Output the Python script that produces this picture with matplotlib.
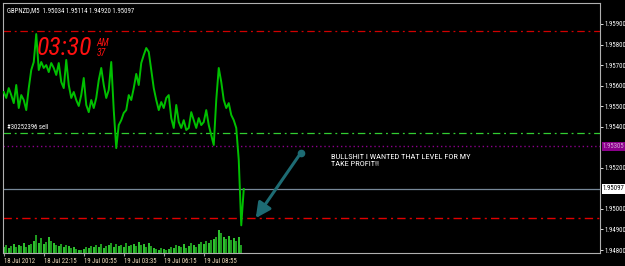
import numpy as np
import matplotlib
matplotlib.use("Agg")
import matplotlib.pyplot as plt
import matplotlib.transforms as mtransforms

# GBPNZD M5 - sequencia de fechamentos (um ponto a cada 10 min)
fechamentos = [
    1.95569, 1.95540, 1.95588, 1.95554, 1.95515, 1.95603, 1.95491, 1.95554, 1.95530, 1.95481,
    1.95588, 1.95676, 1.95715, 1.95851, 1.95676, 1.95715, 1.95686, 1.95700, 1.95666, 1.95710,
    1.95686, 1.95652, 1.95710, 1.95618, 1.95588, 1.95725, 1.95603, 1.95540, 1.95569, 1.95530,
    1.95501, 1.95554, 1.95637, 1.95506, 1.95471, 1.95530, 1.95491, 1.95540, 1.95627, 1.95686,
    1.95603, 1.95540, 1.95579, 1.95715, 1.95481, 1.95296, 1.95408, 1.95432, 1.95467, 1.95481,
    1.95554, 1.95530, 1.95588, 1.95657, 1.95603, 1.95710, 1.95749, 1.95783, 1.95764, 1.95676,
    1.95588, 1.95530, 1.95481, 1.95520, 1.95491, 1.95540, 1.95554, 1.95442, 1.95394, 1.95506,
    1.95423, 1.95394, 1.95432, 1.95384, 1.95394, 1.95471, 1.95432, 1.95394, 1.95442, 1.95408,
    1.95423, 1.95481, 1.95408, 1.95359, 1.95311, 1.95530, 1.95686, 1.95618, 1.95530, 1.95491,
    1.95515, 1.95457, 1.95432, 1.95394, 1.95238, 1.94920, 1.95097,
]

# volume (ticks) por ponto
volumes = [
    60, 80, 50, 70, 90, 60, 80, 70, 100, 60, 80, 90, 120,
    180,
    100, 150, 90, 110, 160, 120, 100, 80,
    70, 90, 60, 80, 70, 50, 60, 40, 30,
    30, 40, 60, 50, 70, 60, 80,
    60, 90, 50, 70, 80, 100, 60,
    90, 70, 80, 60, 100, 70, 80, 90,
    70, 110, 80, 90, 60, 100, 70, 50,
    40, 30, 50, 40, 30, 40,
    60, 50, 80, 70, 60, 90,
    50, 70, 100, 80, 60, 90, 110,
    90, 120, 100, 130, 140,
    160, 230,
    200, 160, 140, 170, 130, 150, 120,
    160, 80,
]

# rotulos do eixo de tempo (indice do ponto, texto)
pos_tempo = [0, 16, 32, 48, 64, 80]
rotulos_tempo = ["18 Jul 2012", "18 Jul 22:15", "19 Jul 00:55",
                 "19 Jul 03:35", "19 Jul 06:15", "19 Jul 08:55"]

# niveis de preco no eixo direito
niveis_eixo = [1.959, 1.958, 1.957, 1.956, 1.955, 1.954, 1.952, 1.950, 1.949, 1.948]

# linhas horizontais (ordens / niveis)
nivel_tp_alto = 1.95866
nivel_tp_baixo = 1.94955
nivel_venda = 1.95369
nivel_bid = 1.95305
ultimo_preco = 1.95097

cabecalho = "GBPNZD,M5  1.95034 1.95114 1.94920 1.95097"

FONTE = "Roboto Condensed"
TAM = 4.9

W, H = 625, 266
fig = plt.figure(figsize=(W / 100, H / 100), dpi=100, facecolor="black")

ax2 = fig.add_axes([3 / W, 13 / H, 597 / W, 250 / H])
ax = fig.add_axes([3 / W, 13 / H, 597 / W, 250 / H], sharex=ax2)
ax.patch.set_visible(False)
ax2.set_facecolor("black")

# volumes
x_vol = np.arange(len(volumes))
cores_vol = ["#1f9a1f" if i % 2 else "#2fbf2f" for i in range(len(volumes))]
ax2.bar(x_vol, volumes, width=0.7, color=cores_vol, linewidth=0)
ax2.set_ylim(0, 2500)
ax2.axis("off")

# preco
x_p = np.arange(len(fechamentos))
ax.plot(x_p, fechamentos, color="#00c000", lw=1.4, zorder=3)

ax.set_xlim(-0.3, 238.5)
ax.set_ylim(1.947854, 1.960022)

# linhas horizontais
ax.axhline(nivel_tp_alto, color="#d00000", lw=0.9, dashes=(6, 3, 1.5, 3))
ax.axhline(nivel_tp_baixo, color="#e00000", lw=1.0, dashes=(6, 3, 1.5, 3))
ax.axhline(nivel_venda, color="#32cd32", lw=0.9, dashes=(6, 3, 1.5, 3))
ax.axhline(nivel_bid, color="#8b008b", lw=1.0, dashes=(1, 2))
ax.axhline(ultimo_preco, color="#778899", lw=0.9)

# eixo de precos a direita
ax.yaxis.tick_right()
ax.set_yticks(niveis_eixo)
ax.set_yticklabels([f"{v:.5f}" for v in niveis_eixo], family=FONTE)
ax.tick_params(axis="y", colors="white", labelsize=TAM, length=2, width=0.6, pad=1)
ax.set_xticks(pos_tempo)
ax.set_xticklabels(rotulos_tempo, ha="left", family=FONTE)
ax.tick_params(axis="x", colors="#909090", labelsize=TAM, length=2, width=0.8, pad=1.5)
for lbl in ax.get_xticklabels():
    lbl.set_color("#f4e0c0")
for s in ax.spines.values():
    s.set_color("#b0b0b0")
    s.set_linewidth(0.8)

trans = mtransforms.blended_transform_factory(ax.transAxes, ax.transData)
ax.text(1.005, nivel_bid, f"{nivel_bid:.5f}", transform=trans, fontsize=TAM,
        family=FONTE, color="#d8a8d8", va="center", ha="left",
        bbox=dict(boxstyle="square,pad=0.15", fc="#8b008b", ec="none"))
ax.text(1.005, ultimo_preco, f"{ultimo_preco:.5f}", transform=trans, fontsize=TAM,
        family=FONTE, color="black", va="center", ha="left",
        bbox=dict(boxstyle="square,pad=0.15", fc="white", ec="none"))

# textos
ax.text(0.006, 0.985, cabecalho, transform=ax.transAxes, fontsize=TAM, family=FONTE,
        color="white", va="top", ha="left")
ax.text(0.006, nivel_venda + 0.00012, "#30252396 sell", transform=trans,
        fontsize=TAM, family=FONTE, color="white", va="bottom", ha="left")

ax.text(0.056, 0.82, "03:30", transform=ax.transAxes, fontsize=18.5, color="#ff1010",
        style="italic", va="center", ha="left", family=FONTE)
ax.text(0.157, 0.84, "AM", transform=ax.transAxes, fontsize=7, color="#ff1010",
        style="italic", va="center", ha="left", family=FONTE)
ax.text(0.157, 0.80, "37", transform=ax.transAxes, fontsize=7, color="#ff1010",
        style="italic", va="center", ha="left", family=FONTE)

ax.text(0.549, 0.37, "BULLSHIT I WANTED THAT LEVEL FOR MY\nTAKE PROFIT!!",
        transform=ax.transAxes, fontsize=6, family=FONTE, color="white",
        va="center", ha="left", linespacing=1.25)

# seta
ax.annotate("", xy=(100.8, 1.94955), xytext=(118.8, 1.95272),
            arrowprops=dict(arrowstyle="-|>,head_length=0.9,head_width=0.45",
                            color="#1d6b73", lw=2.2, shrinkA=0, shrinkB=0))
ax.plot([118.8], [1.95272], "o", color="#1d6b73", ms=4.5)

fig.savefig("out.png", dpi=100, facecolor="black")
